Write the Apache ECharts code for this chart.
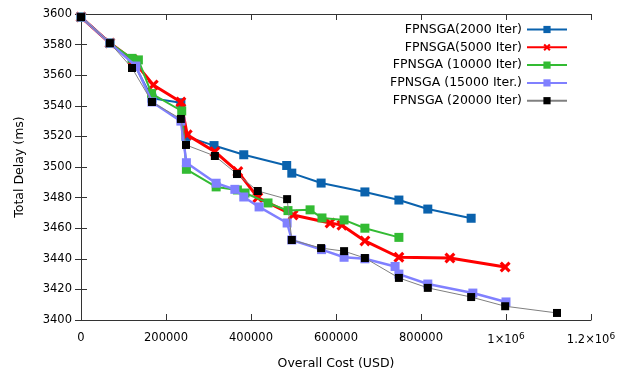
<!DOCTYPE html>
<html>
<head>
<meta charset="utf-8">
<script src="https://cdn.jsdelivr.net/npm/echarts@6/dist/echarts.min.js"></script>
<style>html,body{margin:0;padding:0;background:#fff}#c{width:624px;height:378px}</style>
</head>
<body>
<div id="c"></div>
<script>
// ---- data ----
const seriesNames = ['FPNSGA(2000 Iter)', 'FPNSGA(5000 Iter)', 'FPNSGA (10000 Iter)', 'FPNSGA (15000 Iter.)', 'FPNSGA (20000 Iter)'];

const cost2000  = [0, 68000, 122000, 167000, 235000, 247000, 313000, 383000, 484000, 496000, 565000, 668000, 748000, 816000, 918000];
const delay2000 = [3598, 3581, 3569, 3545, 3542, 3520, 3514, 3508, 3501, 3496, 3489.5, 3483.7, 3478.4, 3472.5, 3466.5];

const cost5000  = [0, 68000, 122000, 170000, 235000, 250000, 315000, 369000, 416000, 499000, 586000, 614000, 668000, 748000, 868000, 998000];
const delay5000 = [3598, 3581, 3570, 3553.6, 3542.5, 3521, 3510, 3497, 3480, 3468.6, 3463.4, 3462, 3451.7, 3441, 3440.5, 3434.6];

const cost10000  = [0, 68000, 120000, 135000, 166000, 237000, 248000, 318000, 368000, 386000, 440000, 487000, 539000, 567000, 619000, 668000, 748000];
const delay10000 = [3598, 3581, 3571, 3570, 3548, 3536.6, 3498.5, 3487, 3485, 3483, 3476.5, 3471.5, 3472, 3466.7, 3465.4, 3460, 3454];

const cost15000  = [0, 68000, 129000, 167000, 235000, 248000, 318000, 362000, 383000, 419000, 485000, 496000, 566000, 619000, 668000, 739000, 748000, 816000, 922000, 1000000];
const delay15000 = [3598, 3581, 3566, 3542.5, 3530, 3502.8, 3489.4, 3485.4, 3480.4, 3473.9, 3463.4, 3452.3, 3446, 3441, 3440, 3435, 3430, 3423.5, 3417.6, 3411.8];

const cost20000  = [0, 68000, 120000, 167000, 235000, 247000, 315000, 367000, 416000, 485000, 496000, 565000, 619000, 668000, 748000, 816000, 918000, 998000, 1120000];
const delay20000 = [3598, 3581, 3564.7, 3542.5, 3531.4, 3514.4, 3507.2, 3495.4, 3484.3, 3479, 3452.3, 3447, 3445, 3440.5, 3427.5, 3421, 3415, 3409, 3404.6];

const xTicks = [0, 200000, 400000, 600000, 800000, 1000000, 1200000];
const yTicks = [3400, 3420, 3440, 3460, 3480, 3500, 3520, 3540, 3560, 3580, 3600];

// ---- build ----
const zip = (a, b) => a.map((v, i) => [v, b[i]]);
const crossPath = 'path://M0,2 L2,0 L5,3 L8,0 L10,2 L7,5 L10,8 L8,10 L5,7 L2,10 L0,8 L3,5 Z';
const font = 'DejaVu Sans';

function xFmt(v) {
  if (v === 1000000) return '1×10{sup|6}';
  if (v === 1200000) return '1.2×10{sup|6}';
  return String(v);
}

const styles = [
  {color: '#0a62ad', lw: 2, sym: 'rect', size: 9, lineColor: '#0a62ad'},
  {color: '#ff0000', lw: 3, sym: crossPath, size: 11, lineColor: '#ff0000'},
  {color: '#33bb33', lw: 2, sym: 'rect', size: 9, lineColor: '#33bb33'},
  {color: '#8080ff', lw: 2.5, sym: 'rect', size: 9, lineColor: '#8080ff'},
  {color: '#000000', lw: 1, sym: 'rect', size: 8, lineColor: '#808080'}
];
const datasets = [zip(cost2000, delay2000), zip(cost5000, delay5000), zip(cost10000, delay10000), zip(cost15000, delay15000), zip(cost20000, delay20000)];

const series = datasets.map((d, i) => ({
  name: seriesNames[i],
  type: 'line',
  data: d,
  symbol: styles[i].sym,
  symbolSize: styles[i].size,
  showAllSymbol: true,
  lineStyle: {color: styles[i].lineColor, width: styles[i].lw},
  itemStyle: {color: styles[i].color, borderWidth: 0},
  emphasis: {disabled: true},
  animation: false,
  z: 2 + i
}));

const axisLine = {show: true, lineStyle: {color: '#333', width: 1}};
const tickIn = {show: true, inside: true, length: 6, lineStyle: {color: '#333'}};

const chart = echarts.init(document.getElementById('c'), null, {renderer: 'canvas'});
chart.setOption({
  backgroundColor: '#fff',
  animation: false,
  grid: {left: 81, right: 33, top: 14, bottom: 58},
  legend: {
    orient: 'vertical',
    right: 51,
    top: 18,
    align: 'right',
    itemWidth: 40,
    itemHeight: 9,
    itemGap: 4.8,
    textStyle: {fontFamily: font, fontSize: 12.5, color: '#000'},
    data: seriesNames
  },
  xAxis: [{
    type: 'value', min: 0, max: 1200000, interval: 200000,
    name: 'Overall Cost (USD)', nameLocation: 'middle', nameGap: 37,
    nameTextStyle: {fontFamily: font, fontSize: 12.5, color: '#000'},
    axisLine: axisLine, axisTick: tickIn, splitLine: {show: false},
    axisLabel: {
      fontFamily: font, fontSize: 11.5, color: '#000', margin: 12,
      formatter: xFmt,
      rich: {sup: {fontFamily: font, fontSize: 9, color: '#000', verticalAlign: 'top', padding: [0, 0, 8, 0]}}
    }
  }, {
    type: 'value', position: 'top', min: 0, max: 1200000, interval: 200000,
    axisLine: axisLine, axisTick: tickIn, axisLabel: {show: false}, splitLine: {show: false}
  }],
  yAxis: [{
    type: 'value', min: 3400, max: 3600, interval: 20,
    name: 'Total Delay (ms)', nameLocation: 'middle', nameGap: 55, nameRotate: 90,
    nameTextStyle: {fontFamily: font, fontSize: 12.5, color: '#000'},
    axisLine: axisLine, axisTick: tickIn, splitLine: {show: false},
    axisLabel: {fontFamily: font, fontSize: 11.5, color: '#000', margin: 9, formatter: v => String(v)}
  }, {
    type: 'value', position: 'right', min: 3400, max: 3600, interval: 20,
    axisLine: axisLine, axisTick: tickIn, axisLabel: {show: false}, splitLine: {show: false}
  }],
  series: series
});
</script>
</body>
</html>
